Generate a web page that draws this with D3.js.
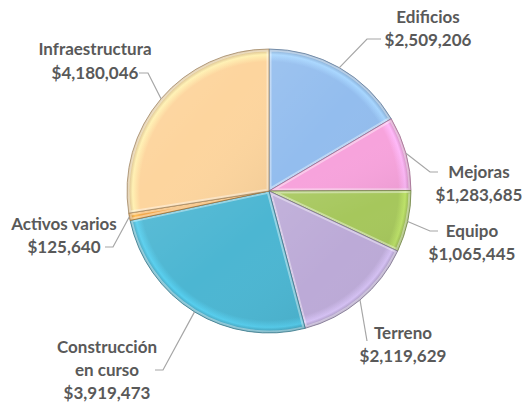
<!DOCTYPE html>
<html>
<head>
<meta charset="utf-8">
<script src="https://cdn.jsdelivr.net/npm/d3@7"></script>
<style>
  body { margin: 0; background: #fff; }
  .lbl { font-family: Lato, "Open Sans", sans-serif; font-weight: 700; font-size: 17px; fill: #595959; }
</style>
</head>
<body>
<div class="chart"></div>
<script>
// data
var categories = ["Edificios", "Mejoras", "Equipo", "Terreno", "Construcción en curso", "Activos varios", "Infraestructura"];
var values = [2509206, 1283685, 1065445, 2119629, 3919473, 125640, 4180046];
var labelLines = [
  ["Edificios", "$2,509,206"],
  ["Mejoras", "$1,283,685"],
  ["Equipo", "$1,065,445"],
  ["Terreno", "$2,119,629"],
  ["Construcción", "en curso", "$3,919,473"],
  ["Activos varios", "$125,640"],
  ["Infraestructura", "$4,180,046"]
];
var colors = ["#93bdee", "#f7a3dc", "#a6c75c", "#bcaad7", "#4cb6d2", "#f2a84c", "#fdd59e"];

var svgWidth = 522;
var svgHeight = 402;
var cx = 269, cy = 191, radius = 142;

// label layout: text centre x, line centre ys, leader elbow, leader end
var labelLayout = [
  { x: 428, y: [17, 40], elbow: [367, 39], end: [381, 39] },
  { x: 479, y: [172, 195], elbow: [430, 172], end: [438, 172] },
  { x: 472, y: [231, 254], elbow: [430, 231], end: [438, 231] },
  { x: 403, y: [333, 356], elbow: [367, 341], end: [367, 341] },
  { x: 107, y: [347, 370, 393], elbow: [163, 370], end: [155, 370] },
  { x: 64, y: [224, 247], elbow: [113, 247], end: [105, 247] },
  { x: 95, y: [49, 73], elbow: [148, 73], end: [139, 73] }
];

var svg = d3.select(".chart")
  .append("svg")
  .attr("width", svgWidth)
  .attr("height", svgHeight);

var defs = svg.append("defs");

var pie = d3.pie().sort(null).value(function(d) { return d; });
var arcs = pie(values);
var arc = d3.arc().innerRadius(0).outerRadius(radius);

// rim bevel gradients
colors.forEach(function(c, i) {
  var g = defs.append("radialGradient")
    .attr("id", "bev" + i)
    .attr("gradientUnits", "userSpaceOnUse")
    .attr("cx", 0).attr("cy", 0).attr("r", radius);
  g.append("stop").attr("offset", "0%").attr("stop-color", c);
  g.append("stop").attr("offset", "91%").attr("stop-color", c);
  g.append("stop").attr("offset", "96%").attr("stop-color", d3.color(c).brighter(0.35));
  g.append("stop").attr("offset", "100%").attr("stop-color", d3.color(c).darker(0.6));
  defs.append("clipPath").attr("id", "clip" + i)
    .append("path").attr("d", arc(arcs[i]));
});

var light = defs.append("linearGradient")
  .attr("id", "light")
  .attr("x1", "0").attr("y1", "0").attr("x2", "1").attr("y2", "1");
light.append("stop").attr("offset", "0%").attr("stop-color", "#fff").attr("stop-opacity", 0.1);
light.append("stop").attr("offset", "50%").attr("stop-color", "#fff").attr("stop-opacity", 0);
light.append("stop").attr("offset", "100%").attr("stop-color", "#000").attr("stop-opacity", 0.05);

var chartGroup = svg.append("g")
  .attr("transform", "translate(" + cx + "," + cy + ")");

var slices = chartGroup.selectAll("g.slice")
  .data(arcs)
  .enter()
  .append("g")
  .attr("class", "slice");

slices.append("path")
  .attr("d", arc)
  .attr("fill", function(d, i) { return "url(#bev" + i + ")"; });

// inner highlight along the slice edges
slices.append("path")
  .attr("d", arc)
  .attr("clip-path", function(d, i) { return "url(#clip" + i + ")"; })
  .attr("fill", "none")
  .attr("stroke", "#fff")
  .attr("stroke-opacity", 0.4)
  .attr("stroke-width", 5);

slices.append("path")
  .attr("d", arc)
  .attr("fill", "url(#light)")
  .attr("stroke", function(d, i) { return d3.color(colors[i]).darker(1.3); })
  .attr("stroke-opacity", 0.75)
  .attr("stroke-width", 1);

// leader lines
var leaders = svg.append("g");
arcs.forEach(function(d, i) {
  var mid = (d.startAngle + d.endAngle) / 2;
  var p0 = [cx + radius * Math.sin(mid), cy - radius * Math.cos(mid)];
  var L = labelLayout[i];
  leaders.append("path")
    .attr("d", d3.line()([p0, L.elbow, L.end]))
    .attr("fill", "none")
    .attr("stroke", "#a6a6a6")
    .attr("stroke-width", 1.2);
});

// labels
var labels = svg.append("g");
labelLines.forEach(function(lines, i) {
  var L = labelLayout[i];
  lines.forEach(function(t, j) {
    labels.append("text")
      .attr("class", "lbl")
      .attr("x", L.x)
      .attr("y", L.y[j])
      .attr("dy", "0.35em")
      .attr("text-anchor", "middle")
      .text(t);
  });
});
</script>
</body>
</html>
